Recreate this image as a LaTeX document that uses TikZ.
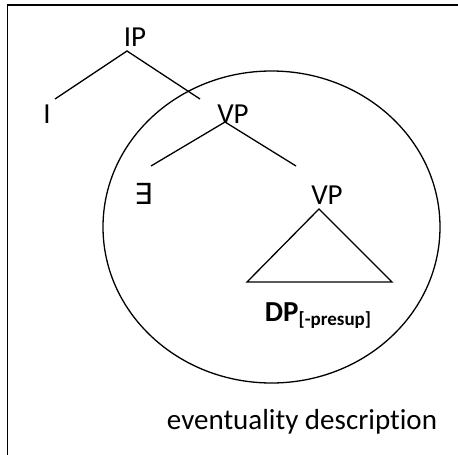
\documentclass[tikz,border=0pt]{standalone}
\usepackage{fontspec}
\usetikzlibrary{shapes.geometric}
\setmainfont{Carlito}[Ligatures={NoCommon}]
\newfontfamily\symfnt{DejaVu Sans}
\begin{document}
\begin{tikzpicture}[x=1pt,y=-1pt,
  lbl/.style={inner sep=0pt,anchor=base,font=\fontsize{29}{34}\selectfont},
  branch/.style={line width=1.3pt},
  frame/.style={line width=1.8pt}]
\useasboundingbox (0,0) rectangle (458,455);
\begin{scope}
\clip (0,0) rectangle (458,455);
\draw[frame] (7.5,5) rectangle (480,480);
\end{scope}
% circle
\node[draw,ellipse,line width=1.3pt,minimum width=337pt,minimum height=312pt,inner sep=0pt] (ev) at (271.5,227) {};
% labels
\node[lbl] (ip) at (135,46) {IP};
\node[lbl] (i) at (47,123) {I};
\node[lbl] (vp1) at (233,123) {VP};
\node[lbl] (ex) at (144,204) {\symfnt\fontsize{29}{32}\selectfont ∃};
\node[lbl] (vp2) at (327,204) {VP};
\node[lbl] (dp) at (318,321) {\bfseries DP\raisebox{-4pt}{\fontsize{19}{20}\selectfont [-presup]}};
\node[lbl] (evd) at (302,429) {eventuality description};
% branch points
\coordinate (ipB) at (127,51);
\coordinate (iT) at (55,99);
\coordinate (vp1T) at (200,99);
\coordinate (vp1B) at (225,122);
\coordinate (exT) at (151,166);
\coordinate (vp2T) at (296,166);
\coordinate (vp2B) at (319,209);
\coordinate (triL) at (247,282);
\coordinate (triR) at (392,282);
\draw[branch] (iT) -- (ipB) -- (vp1T);
\draw[branch] (exT) -- (vp1B) -- (vp2T);
\draw[branch] (vp2B) -- (triL) -- (triR) -- cycle;
\end{tikzpicture}
\end{document}
